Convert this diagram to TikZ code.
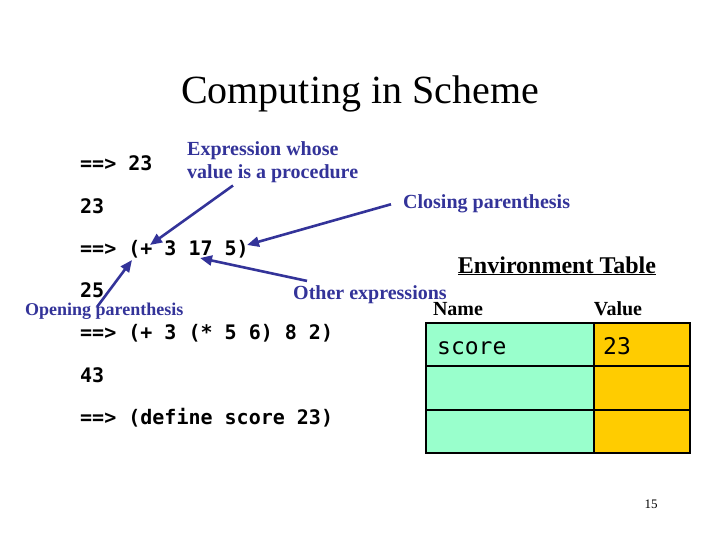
\documentclass[tikz,border=0pt]{standalone}
\usepackage{fontspec}
\setmainfont{Liberation Serif}
\setmonofont{DejaVu Sans Mono}
\usetikzlibrary{arrows.meta,calc}
\definecolor{tinte}{HTML}{333399}
\definecolor{gruen}{HTML}{99FFCC}
\definecolor{gelb}{HTML}{FFCC00}
\tikzset{
  code/.style={anchor=base west,inner sep=0pt,font=\fontsize{20}{24}\selectfont\ttfamily\bfseries},
  notiz/.style={tinte,inner sep=0pt,font=\fontsize{20}{23}\selectfont\bfseries},
  kopf/.style={anchor=base,inner sep=0pt,font=\fontsize{20}{24}\selectfont\bfseries},
  eintrag/.style={anchor=base west,inner sep=0pt,font=\fontsize{23}{27}\selectfont\ttfamily},
  pfeil/.style={-{Triangle[length=12pt,width=10pt]},tinte,line width=2.6pt},
  zelle/.style={draw=black,line width=2.2pt},
}

\begin{document}
\begin{tikzpicture}[x=1pt,y=-1pt]
  \useasboundingbox (0,0) rectangle (720,540);
  % ===== Titel =====
  \node[anchor=base,inner sep=0pt,font=\fontsize{40}{48}\selectfont] (titel) at (360,104) {Computing in Scheme};
  % ===== Eingaben und Ergebnisse =====
  \foreach \t [count=\n] in {{==> 23}, {23}, {==> (+ 3 17 5)}, {25},
                              {==> (+ 3 (* 5 6) 8 2)}, {43}, {==> (define score 23)}}{
    \node[code] (z\n) at (80,{171+42.2*(\n-1)}) {\t};}
  % ===== Zielpunkte im Ausdruck =====
  \coordinate (plus) at (150,245);
  \coordinate (zu) at (247,245);
  \coordinate (siebzehn) at (200,258);
  \coordinate (auf) at (132,260);
  % ===== Erklaerungen =====
  \node[notiz,anchor=north west,align=left] (ausdr) at (187,141) {Expression whose\\value is a procedure};
  \node[notiz,anchor=base west] (schliess) at (403,209) {Closing parenthesis};
  \node[notiz,anchor=base west] (andere) at (293,299) {Other expressions};
  \node[notiz,anchor=base west,font=\fontsize{18}{22}\selectfont\bfseries] (oeffn) at (25,315) {Opening parenthesis};
  \draw[pfeil] ([xshift=46pt,yshift=-3pt]ausdr.south west) -- (plus);
  \draw[pfeil] ([xshift=-12pt]schliess.west) -- (zu);
  \draw[pfeil] ([xshift=14pt,yshift=4pt]andere.north west) -- (siebzehn);
  \draw[pfeil] ($(oeffn.base west)+(72,-8)$) -- (auf);
  % ===== Umgebungstabelle =====
  \node[kopf,font=\fontsize{24}{28}\selectfont\bfseries] (umgebung) at (557,273) {\underline{Environment Table}};
  \node[kopf] (name) at (458,315) {Name};
  \node[kopf] (wert) at (618,315) {Value};
  \foreach \r in {0,1,2}{
    \draw[zelle,fill=gruen] (426,{323+43.3*\r}) rectangle (594,{323+43.3*(\r+1)});
    \draw[zelle,fill=gelb] (594,{323+43.3*\r}) rectangle (690,{323+43.3*(\r+1)});}
  \draw[line width=2.6pt] (426,323) rectangle (690,453);
  \node[eintrag] (sname) at (437,354) {score};
  \node[eintrag] (swert) at (603,354) {23};
  % ===== Seitenzahl =====
  \node[font=\fontsize{13}{15}\selectfont] (seite) at (651,504) {15};
\end{tikzpicture}
\end{document}
